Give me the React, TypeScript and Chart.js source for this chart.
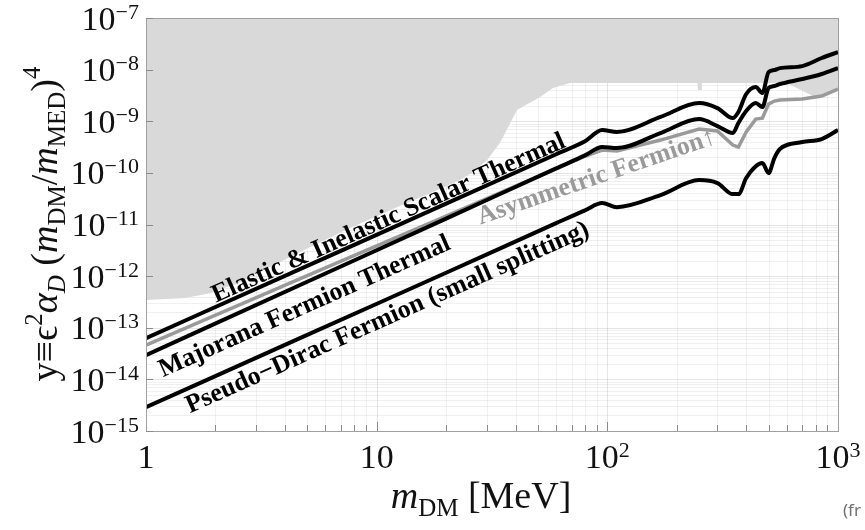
import React, { useEffect, useRef } from "react";
import { Chart, registerables } from "chart.js";

Chart.register(...registerables);

// Dark-matter mass grid (MeV) shared by the thermal-target curves
const massGrid = [1, 5, 20, 60, 80, 95, 110, 170, 250, 300, 350, 370, 400, 440, 470, 500, 530, 560, 700, 850, 1000];

// y = eps^2 alpha_D (m_DM/m_MED)^4 required for the relic abundance
const scalarThermal = [6.29e-14, 1.58e-12, 2.53e-11, 2.29e-10, 4.08e-10, 6.75e-10, 6.18e-10, 1.21e-9, 2.25e-9, 1.8e-9, 1.15e-9, 1.51e-9, 3.37e-9, 4.6e-9, 3.52e-9, 8.98e-9, 9.82e-9, 1.07e-8, 1.17e-8, 1.68e-8, 2.19e-8];
const majoranaThermal = [2.94e-14, 7.79e-13, 1.3e-11, 1.22e-10, 2.18e-10, 3.16e-10, 3.02e-10, 5.91e-10, 1.1e-9, 8.07e-10, 5.91e-10, 9.23e-10, 1.58e-9, 2.25e-9, 1.88e-9, 4.4e-9, 4.81e-9, 5.26e-9, 6.57e-9, 8.22e-9, 1.07e-8];
const asymmetricFermion = [4.6e-14, 1.02e-12, 1.45e-11, 1.21e-10, 2.1e-10, 2.77e-10, 2.65e-10, 4.32e-10, 7.06e-10, 6.46e-10, 3.46e-10, 3.16e-10, 6.18e-10, 1.1e-9, 1.15e-9, 2.15e-9, 2.46e-9, 2.58e-9, 2.69e-9, 3.08e-9, 4.21e-9];
const pseudoDirac = [2.89e-15, 7.29e-14, 1.16e-12, 1.06e-11, 1.88e-11, 2.6e-11, 2.17e-11, 3.71e-11, 7.25e-11, 6.34e-11, 3.88e-11, 3.88e-11, 7.93e-11, 1.35e-10, 1.55e-10, 9.91e-11, 1.94e-10, 2.89e-10, 3.95e-10, 4.52e-10, 6.75e-10];

// Lower edge of the excluded (shaded) region
const exclusionMass = [1, 1.476, 1.894, 2.556, 4.65, 7.66, 12.6, 18.8, 23.0, 26.2, 30.1, 34.2, 40.6, 51.1, 58.1, 68.9, 246, 247, 256, 257, 600, 778, 850, 1000];
const exclusionLimit = [3.43e-13, 3.75e-13, 4.68e-13, 7.65e-13, 2.92e-12, 8.52e-12, 2.27e-11, 4.85e-11, 7.25e-11, 1.04e-10, 1.77e-10, 3.78e-10, 1.65e-9, 2.94e-9, 4.4e-9, 5.5e-9, 5.5e-9, 4.03e-9, 4.03e-9, 5.5e-9, 5.5e-9, 3.08e-9, 3.08e-9, 4.21e-9];

// Axis ticks
const xMajorTicks = [1, 10, 100, 1000];
const xTickExponents = [0, 1, 2, 3];
const yTickExponents = [-15, -14, -13, -12, -11, -10, -9, -8, -7];

// Curve annotations: text, anchor (baseline start) in data units, rotation
const labelTexts = ["Elastic & Inelastic Scalar Thermal", "Majorana Fermion Thermal", "Pseudo\u2212Dirac Fermion (small splitting)", "Asymmetric Fermion\u2191"];
const labelMass = [2.01, 1.185, 1.551, 28.2];
const labelY = [3.04e-13, 1.1e-14, 2.21e-15, 1.0e-11];
const labelAngles = [-24, -24, -24, -19];
const labelColors = ["#000000", "#000000", "#000000", "#9a9a9a"];

const SERIF = '"Liberation Serif", "Times New Roman", serif';
const TICK = 34;
const TICK_SUP = 22;
const TITLE = 38;
const TITLE_SUB = 25;

type Run = { t: string; size: number; style?: string; dy?: number };

function fontOf(r: Run) {
  return `${r.style ?? ""} ${r.size}px ${SERIF}`.trim();
}

function runsWidth(ctx: CanvasRenderingContext2D, runs: Run[]) {
  let w = 0;
  for (const r of runs) {
    ctx.font = fontOf(r);
    w += ctx.measureText(r.t).width;
  }
  return w;
}

function drawRuns(ctx: CanvasRenderingContext2D, runs: Run[], x: number, y: number) {
  let cx = x;
  for (const r of runs) {
    ctx.font = fontOf(r);
    ctx.fillText(r.t, cx, y + (r.dy ?? 0));
    cx += ctx.measureText(r.t).width;
  }
}

function powerLabel(exp: number): Run[] {
  if (exp === 0) return [{ t: "1", size: TICK }];
  if (exp === 1) return [{ t: "10", size: TICK }];
  const e = exp < 0 ? "\u2212" + Math.abs(exp) : String(exp);
  return [
    { t: "10", size: TICK },
    { t: e, size: TICK_SUP, dy: -11 },
  ];
}

const decorations = {
  id: "decorations",
  beforeDatasetsDraw(chart: any) {
    const { ctx, chartArea: a, scales } = chart;
    const xs = scales.x;
    const ys = scales.y;
    ctx.save();
    ctx.lineWidth = 1;
    // faint log grid
    for (let k = 0; k < 3; k++) {
      for (let j = 1; j <= 9; j++) {
        const v = j * Math.pow(10, k);
        if (v <= 1) continue;
        const px = Math.round(xs.getPixelForValue(v)) + 0.5;
        ctx.strokeStyle = j === 1 ? "rgba(0,0,0,0.10)" : "rgba(0,0,0,0.06)";
        ctx.beginPath();
        ctx.moveTo(px, a.top);
        ctx.lineTo(px, a.bottom);
        ctx.stroke();
      }
    }
    for (let e = -15; e < -7; e++) {
      for (let j = 1; j <= 9; j++) {
        const v = j * Math.pow(10, e);
        if (e === -15 && j === 1) continue;
        const py = Math.round(ys.getPixelForValue(v)) + 0.5;
        ctx.strokeStyle = j === 1 ? "rgba(0,0,0,0.10)" : "rgba(0,0,0,0.06)";
        ctx.beginPath();
        ctx.moveTo(a.left, py);
        ctx.lineTo(a.right, py);
        ctx.stroke();
      }
    }
    ctx.restore();
  },
  afterDatasetsDraw(chart: any) {
    const { ctx, chartArea: a, scales } = chart;
    const xs = scales.x;
    const ys = scales.y;
    ctx.save();

    // frame
    ctx.strokeStyle = "#a0a0a0";
    ctx.lineWidth = 1;
    ctx.strokeRect(Math.round(a.left) + 0.5, Math.round(a.top) + 0.5, Math.round(a.right - a.left), Math.round(a.bottom - a.top));

    // inward ticks
    ctx.strokeStyle = "#8a8a8a";
    for (let k = 0; k < 3; k++) {
      for (let j = 1; j <= 9; j++) {
        const v = j * Math.pow(10, k);
        if (v <= 1) continue;
        const px = Math.round(xs.getPixelForValue(v)) + 0.5;
        const len = j === 1 ? 9 : 6;
        ctx.beginPath();
        ctx.moveTo(px, a.bottom);
        ctx.lineTo(px, a.bottom - len);
        ctx.stroke();
      }
    }
    for (const e of yTickExponents) {
      const py = Math.round(ys.getPixelForValue(Math.pow(10, e))) + 0.5;
      ctx.beginPath();
      ctx.moveTo(a.left, py);
      ctx.lineTo(a.left + 7, py);
      ctx.stroke();
    }

    // tick labels
    ctx.fillStyle = "#111";
    ctx.textAlign = "left";
    ctx.textBaseline = "alphabetic";
    for (const e of yTickExponents) {
      const runs = powerLabel(e);
      const w = runsWidth(ctx, runs);
      const py = ys.getPixelForValue(Math.pow(10, e));
      drawRuns(ctx, runs, a.left - 7 - w, py + 11.5);
    }
    xMajorTicks.forEach((v, i) => {
      const runs = powerLabel(xTickExponents[i]);
      const w = runsWidth(ctx, runs);
      const px = xs.getPixelForValue(v);
      drawRuns(ctx, runs, px - w / 2, a.bottom + 37);
    });

    // curve annotations
    labelTexts.forEach((text, i) => {
      const px = xs.getPixelForValue(labelMass[i]);
      const py = ys.getPixelForValue(labelY[i]);
      ctx.save();
      ctx.translate(px, py);
      ctx.rotate((labelAngles[i] * Math.PI) / 180);
      ctx.font = `bold 26px ${SERIF}`;
      ctx.fillStyle = labelColors[i];
      ctx.fillText(text, 0, 0);
      ctx.restore();
    });

    // x-axis title
    ctx.fillStyle = "#111";
    const xTitle: Run[] = [
      { t: "m", size: TITLE, style: "italic" },
      { t: "DM", size: TITLE_SUB, dy: 8 },
      { t: " [MeV]", size: TITLE },
    ];
    const xw = runsWidth(ctx, xTitle);
    drawRuns(ctx, xTitle, 481 - xw / 2, 508);

    // y-axis title (rotated)
    const yTitle: Run[] = [
      { t: "y\u2261\u03F5", size: TITLE },
      { t: "2", size: TITLE_SUB, dy: -15 },
      { t: "\u03B1", size: TITLE, style: "italic" },
      { t: "D", size: TITLE_SUB, style: "italic", dy: 8 },
      { t: " (", size: TITLE },
      { t: "m", size: TITLE, style: "italic" },
      { t: "DM", size: TITLE_SUB, dy: 8 },
      { t: "/", size: TITLE },
      { t: "m", size: TITLE, style: "italic" },
      { t: "MED", size: TITLE_SUB, dy: 8 },
      { t: ")", size: TITLE },
      { t: "4", size: TITLE_SUB, dy: -17 },
    ];
    const yw = runsWidth(ctx, yTitle);
    ctx.save();
    ctx.translate(57, 224);
    ctx.rotate(-Math.PI / 2);
    drawRuns(ctx, yTitle, -yw / 2, 0);
    ctx.restore();

    // source note at the lower right edge
    ctx.font = '17px "Noto Sans", "Open Sans", sans-serif';
    ctx.fillStyle = "#707070";
    ctx.fillText("(fr", 843, 516);

    ctx.restore();
  },
};

export default function App() {
  const canvasRef = useRef<HTMLCanvasElement | null>(null);

  useEffect(() => {
    const canvas = canvasRef.current;
    if (!canvas) return;
    const pts = (ys: number[]) => massGrid.map((m, i) => ({ x: m, y: ys[i] }));
    const chart = new Chart(canvas, {
      type: "line",
      data: {
        datasets: [
          {
            label: "Excluded",
            data: exclusionMass.map((m, i) => ({ x: m, y: exclusionLimit[i] })),
            borderColor: "rgba(0,0,0,0)",
            borderWidth: 0,
            backgroundColor: "#d9d9d9",
            fill: "end",
            pointRadius: 0,
            tension: 0,
            order: 5,
          },
          {
            label: "Asymmetric Fermion",
            data: pts(asymmetricFermion),
            borderColor: "#9a9a9a",
            borderWidth: 3.5,
            pointRadius: 0,
            tension: 0,
            fill: false,
            order: 3,
          },
          {
            label: "Pseudo-Dirac Fermion (small splitting)",
            data: pts(pseudoDirac),
            borderColor: "#000",
            borderWidth: 4,
            pointRadius: 0,
            cubicInterpolationMode: "monotone",
            fill: false,
            order: 2,
          },
          {
            label: "Majorana Fermion Thermal",
            data: pts(majoranaThermal),
            borderColor: "#000",
            borderWidth: 4,
            pointRadius: 0,
            cubicInterpolationMode: "monotone",
            fill: false,
            order: 1,
          },
          {
            label: "Elastic & Inelastic Scalar Thermal",
            data: pts(scalarThermal),
            borderColor: "#000",
            borderWidth: 4,
            pointRadius: 0,
            cubicInterpolationMode: "monotone",
            fill: false,
            order: 0,
          },
        ],
      },
      options: {
        responsive: false,
        animation: false,
        devicePixelRatio: 1,
        layout: { padding: { left: 146, right: 27, top: 18, bottom: 99 } },
        scales: {
          x: { type: "logarithmic", min: 1, max: 1000, display: false },
          y: { type: "logarithmic", min: 1e-15, max: 1e-7, display: false },
        },
        plugins: {
          legend: { display: false },
          tooltip: { enabled: false },
        },
      },
      plugins: [decorations],
    });
    return () => chart.destroy();
  }, []);

  return (
    <div style={{ position: "absolute", left: 0, top: 0, width: 865, height: 530, background: "#fff" }}>
      <canvas ref={canvasRef} width={865} height={530} style={{ display: "block" }} />
    </div>
  );
}
